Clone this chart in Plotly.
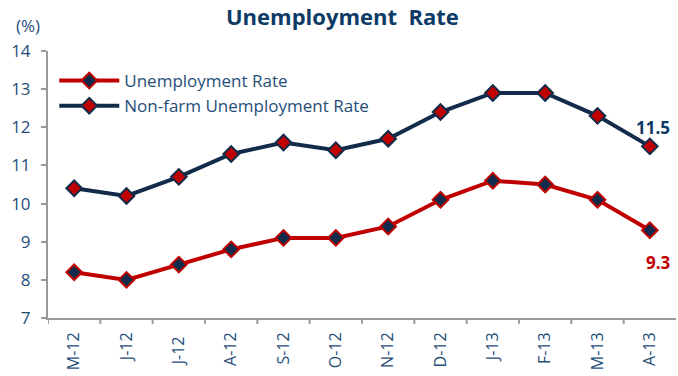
import plotly.graph_objects as go

categories = ["M-12", "J-12", "J-12 ", "A-12", "S-12", "O-12", "N-12", "D-12", "J-13", "F-13", "M-13", "A-13"]
unemployment = [8.2, 8.0, 8.4, 8.8, 9.1, 9.1, 9.4, 10.1, 10.6, 10.5, 10.1, 9.3]
nonfarm = [10.4, 10.2, 10.7, 11.3, 11.6, 11.4, 11.7, 12.4, 12.9, 12.9, 12.3, 11.5]

RED = "#C00000"
NAVY = "#132B4B"
TXT = "#1F4E79"
FONT = "Open Sans"

x = list(range(len(categories)))

fig = go.Figure()
fig.add_trace(go.Scatter(
    x=x, y=unemployment, name="Unemployment Rate", mode="lines+markers",
    line=dict(color=RED, width=4),
    marker=dict(symbol="diamond", size=12, color=NAVY, line=dict(color=RED, width=2)),
))
fig.add_trace(go.Scatter(
    x=x, y=nonfarm, name="Non-farm Unemployment Rate", mode="lines+markers",
    line=dict(color=NAVY, width=4),
    marker=dict(symbol="diamond", size=12, color=RED, line=dict(color=NAVY, width=2)),
))

fig.add_annotation(x=x[-1], y=nonfarm[-1], text="<b>11.5</b>", showarrow=False,
                   xanchor="center", yanchor="middle", yshift=19, xshift=3,
                   font=dict(family=FONT, size=17, color="#0D3B66"))
fig.add_annotation(x=x[-1], y=unemployment[-1], text="<b>9.3</b>", showarrow=False,
                   xanchor="center", yanchor="middle", yshift=-32, xshift=9,
                   font=dict(family=FONT, size=17, color=RED))
fig.add_annotation(xref="paper", yref="paper", x=-0.032, y=1.094, text="(%)",
                   showarrow=False, xanchor="center", yanchor="middle",
                   font=dict(family=FONT, size=17, color=TXT))

fig.update_layout(
    width=678, height=376,
    margin=dict(l=48, r=2, t=51, b=58),
    paper_bgcolor="white", plot_bgcolor="white",
    title=dict(text="<b>Unemployment  Rate</b>", x=0.505, xanchor="center", y=0.955, yanchor="middle",
               font=dict(family=FONT, size=22, color="#0D3B66")),
    showlegend=True,
    legend=dict(x=0.01, y=0.955, xanchor="left", yanchor="top", bgcolor="rgba(0,0,0,0)",
                font=dict(family=FONT, size=17, color=TXT), tracegroupgap=0, itemwidth=60),
    font=dict(family=FONT, color=TXT),
)
fig.update_xaxes(
    tickmode="array", tickvals=x, ticktext=categories, tickangle=-90,
    range=[-0.5, len(categories) - 0.5], automargin=False,
    showline=True, linecolor="#999999", linewidth=2, ticks="",
    showgrid=False, zeroline=False, ticklabelstandoff=6,
    tickfont=dict(family=FONT, size=16, color=TXT),
)
for i in range(len(categories)):
    fig.add_shape(type="line", xref="x", yref="paper", x0=i - 0.5, x1=i - 0.5, y0=0, y1=-0.022,
                  line=dict(color="#999999", width=2))
fig.update_yaxes(
    range=[7, 14], dtick=1, showline=True, linecolor="#999999", linewidth=2,
    ticks="outside", ticklen=5, tickcolor="#999999", tickwidth=2, automargin=False,
    showgrid=False, zeroline=False, ticklabelstandoff=7,
    tickfont=dict(family=FONT, size=17, color=TXT),
)

fig.write_html("out.html", config={"displayModeBar": False},
               post_script="document.body.style.margin='0';")
